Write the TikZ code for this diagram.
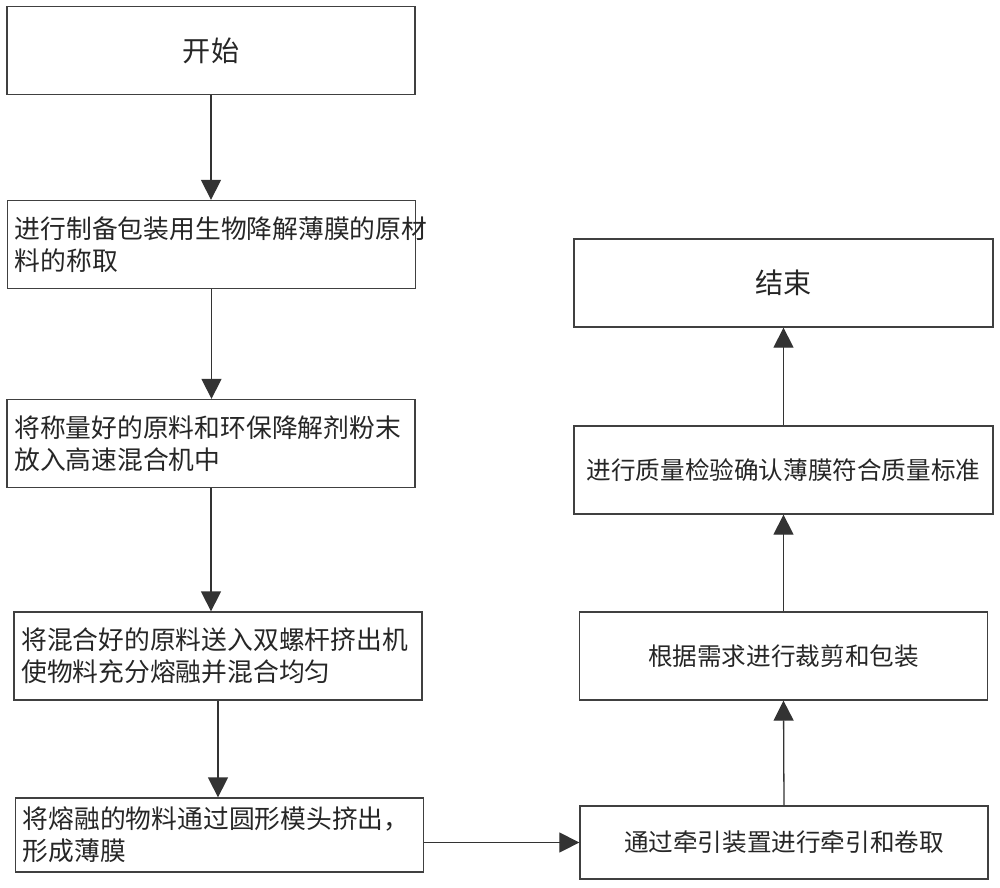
\documentclass[tikz,border=0pt]{standalone}
\usepackage{fontspec}
\setmainfont{Noto Sans CJK SC}
\usetikzlibrary{arrows.meta}

\begin{document}
\begin{tikzpicture}[x=0.03cm, y=-0.03cm,
    box/.style={draw=black!75, line width=1.1pt, text=black!85, minimum width=12.24cm, minimum height=2.64cm, inner sep=0pt},
    lbox/.style={box, text width=11.8cm, align=left, font=\fontsize{22}{27}\selectfont},
    rbox/.style={box, align=center, font=\fontsize{21}{26}\selectfont},
    arr/.style={draw=black!80, line width=1.1pt, -{Triangle[length=0.6cm, width=0.6cm]}}]
    \useasboundingbox (0,0) rectangle (1000,887);

    % left column
    \node[box, font=\fontsize{24}{28}\selectfont] (start) at (211,50.5) {开始};
    \node[lbox] (weigh) at (211.5,244.5) {进行制备包装用生物降解薄膜的原材\\料的称取};
    \node[lbox] (mix) at (211,443.5) {将称量好的原料和环保降解剂粉末\\放入高速混合机中};
    \node[lbox] (extrude) at (218,656) {将混合好的原料送入双螺杆挤出机\\使物料充分熔融并混合均匀};
    \node[lbox, minimum height=2.22cm] (melt) at (219.5,835) {将熔融的物料通过圆形模头挤出，\\形成薄膜};

    % right column
    \node[rbox, minimum height=2.19cm] (pull) at (784,842.5) {通过牵引装置进行牵引和卷取};
    \node[rbox] (cut) at (783.5,656) {根据需求进行裁剪和包装};
    \node[rbox, minimum width=12.57cm] (check) at (783.5,470) {进行质量检验确认薄膜符合质量标准};
    \node[rbox, minimum width=12.57cm, font=\fontsize{24}{28}\selectfont] (finish) at (783.5,283) {结束};

    \draw[arr] (start.south) -- (start.south |- weigh.north);
    \draw[arr] (weigh.south) -- (weigh.south |- mix.north);
    \draw[arr] (mix.south) -- (mix.south |- extrude.north);
    \draw[arr] (extrude.south) -- (extrude.south |- melt.north);
    \draw[arr] (melt.east |- pull.west) -- (pull.west);
    \draw[arr] (pull.north) -- (cut.south);
    \draw[arr] (cut.north) -- (check.south);
    \draw[arr] (check.north) -- (finish.south);

\end{tikzpicture}
\end{document}
